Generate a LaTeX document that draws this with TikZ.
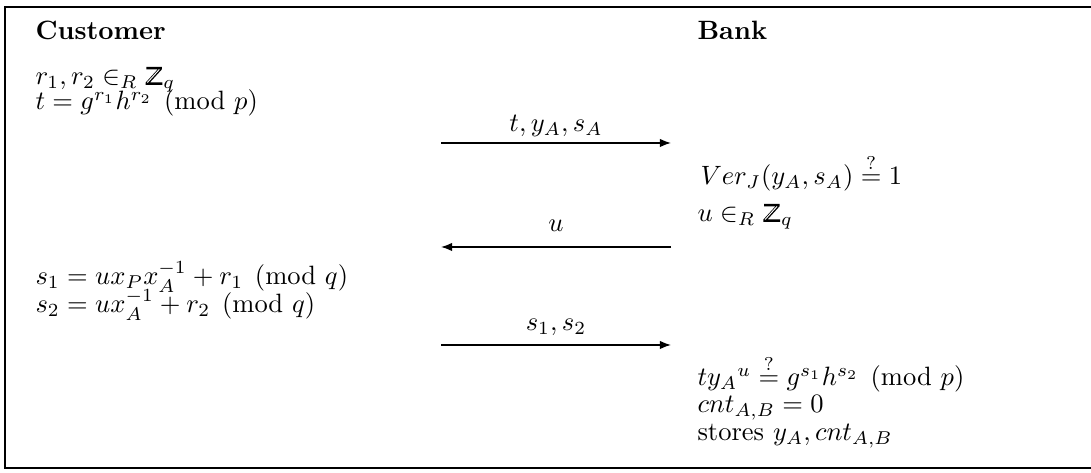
\documentclass[tikz,border=0pt]{standalone}
\usepackage{amsmath}
\usepackage{pict2e}
\usetikzlibrary{arrows.meta}
\newcommand{\dsZ}{\mathord{\mbox{\setlength{\unitlength}{0.1em}%
\begin{picture}(7,6.8)
\polygon*(0.6,6.8)(6.4,6.8)(6.4,5.9)(1.9,0.95)(6.6,0.95)(6.6,0)(0.3,0)(0.3,0.9)(4.8,5.85)(0.6,5.85)
\color{white}\linethickness{0.035em}\Line(5.45,5.87)(0.95,0.93)
\end{picture}}}}
\begin{document}
\begin{tikzpicture}[x=0.377pt,y=-0.377pt,
  txt/.style={anchor=base west,inner sep=0pt},
  lbl/.style={anchor=base,inner sep=0pt},
  msg/.style={line width=0.55pt,-{Latex[length=4.2pt,width=3.2pt]}},
  frame/.style={line width=0.8pt}]
\useasboundingbox (0,0) rectangle (1091,473);
\draw[frame] (1091,7) -- (5,7) -- (5,468) -- (1091,468);
% Customer column
\node[txt] (cust) at (35,40) {\textbf{Customer}};
\node[txt] (c1) at (35,85) {$r_1, r_2 \in_R \dsZ_q$};
\node[txt] (c2) at (35,110) {$t = g^{r_1} h^{r_2} \pmod{p}$};
\node[txt] (c3) at (35,285) {$s_1 = u x_P x_A^{-1} + r_1 \pmod{q}$};
\node[txt] (c4) at (35,313) {$s_2 = u x_A^{-1} + r_2 \pmod{q}$};
% Bank column
\node[txt] (bank) at (697,40) {\textbf{Bank}};
\node[txt] (b1) at (700,185) {$Ver_J(y_A, s_A) \stackrel{?}{=} 1$};
\node[txt] (b2) at (697,222) {$u \in_R \dsZ_q$};
\node[txt] (b3) at (697,386) {$t{y_A}^u \stackrel{?}{=} g^{s_1} h^{s_2} \pmod{p}$};
\node[txt] (b4) at (697,413) {$cnt_{A,B} = 0$};
\node[txt] (b5) at (697,441) {stores $y_A, cnt_{A,B}$};
% messages
\coordinate (m1l) at (441,143); \coordinate (m1r) at (671,143);
\coordinate (m2l) at (441,247); \coordinate (m2r) at (671,247);
\coordinate (m3l) at (441,345); \coordinate (m3r) at (671,345);
\draw[msg] (m1l) -- (m1r);
\draw[msg] (m2r) -- (m2l);
\draw[msg] (m3l) -- (m3r);
\node[lbl] (l1) at (556,132) {$t, y_A, s_A$};
\node[lbl] (l2) at (556,232) {$u$};
\node[lbl] (l3) at (556,331) {$s_1, s_2$};
\end{tikzpicture}
\end{document}
